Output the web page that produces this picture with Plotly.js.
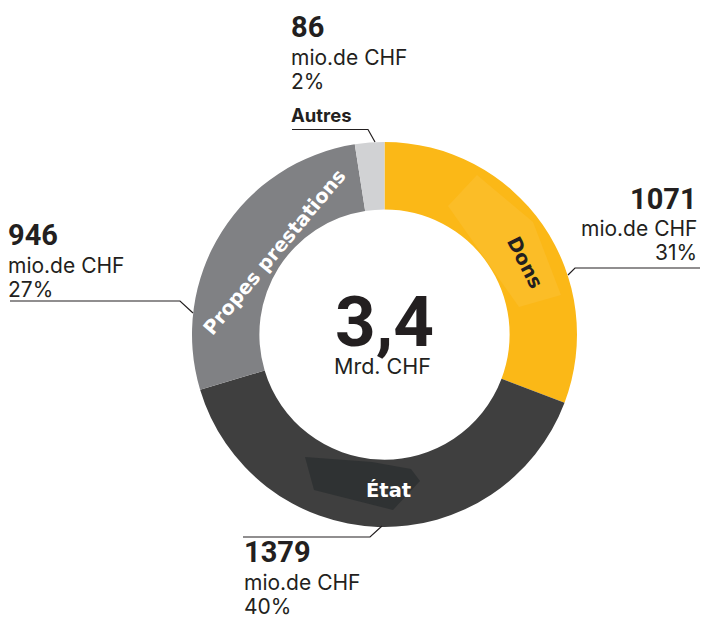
<!DOCTYPE html>
<html>
<head>
<meta charset="utf-8">
<script src="https://cdn.plot.ly/plotly-3.0.1.min.js"></script>
<style>
html,body{margin:0;padding:0;background:#fff;}
#chart{width:705px;height:619px;}
</style>
</head>
<body>
<div id="chart"></div>
<script>
// ---- data ----
const labels = ['Dons', 'État', 'Propes prestations', 'Autres'];
const values = [1071, 1379, 946, 86];
const percents = ['31%', '40%', '27%', '2%'];
const sliceText = ['Dons', 'État', 'Propes prestations', ''];
const unitText = 'mio.de CHF';
const totalText = '3,4';
const totalUnit = 'Mrd. CHF';
const outsideName = ['', '', '', 'Autres'];

// ---- styling ----
const colors = ['#FBB817', '#3F3F3F', '#808184', '#D1D2D4'];
const sliceTextColors = ['#231F20', '#FFFFFF', '#FFFFFF', '#FFFFFF'];
const ink = '#231F20';
const W = 705, H = 619;
const fx = x => x / W;
const fy = y => 1 - y / H;

// label blocks (pixel positions of caps-centres)
const blocks = [
  {x: 698, anchor: 'right', y: 198.5},
  {x: 243, anchor: 'left', y: 552},
  {x: 7, anchor: 'left', y: 235},
  {x: 290, anchor: 'left', y: 27.5}
];
const lineGaps = [0, 30, 54];
const leaders = [
  [[568, 275], [575, 268], [700, 268]],
  [[382, 526], [370, 537], [243, 537]],
  [[193, 313], [180, 301], [10, 301]],
  [[375, 142], [368, 129.5], [292, 129.5]]
];
// in-ring label placement (pixels, rotation)
const inLabelPos = [
  {x: 525, y: 262, angle: 63},
  {x: 388, y: 490, angle: 0},
  {x: 274, y: 252, angle: -50},
  null
];
// subtle tinted panels behind the in-ring labels
const panels = [
  {pts: [[477, 175], [448, 206], [519, 307], [561, 295], [533, 222]], fill: 'rgba(255,255,255,0.07)'},
  {pts: [[305, 457], [372, 462], [411, 469], [420, 481], [393, 510], [314, 490]], fill: 'rgba(20,28,30,0.36)'}
];

const annotations = [];
const shapes = [];

panels.forEach(p => {
  shapes.push({type: 'path', xref: 'paper', yref: 'paper', layer: 'above',
    path: p.pts.map((q, k) => (k ? 'L' : 'M') + fx(q[0]) + ',' + fy(q[1])).join(' ') + ' Z',
    fillcolor: p.fill, line: {width: 0}});
});

labels.forEach((lab, i) => {
  const b = blocks[i];
  const common = {xref: 'paper', yref: 'paper', x: fx(b.x), xanchor: b.anchor,
    yanchor: 'middle', showarrow: false, align: b.anchor, borderpad: 0};
  annotations.push(Object.assign({}, common, {y: fy(b.y + lineGaps[0]), text: '<b>' + values[i] + '</b>',
    font: {family: 'Roboto', size: 29, color: ink}}));
  annotations.push(Object.assign({}, common, {y: fy(b.y + lineGaps[1]), text: unitText,
    font: {family: 'Inter', size: 21, color: ink}}));
  annotations.push(Object.assign({}, common, {y: fy(b.y + lineGaps[2]), text: percents[i],
    font: {family: 'Inter', size: 21, color: ink}}));
  if (outsideName[i]) {
    annotations.push(Object.assign({}, common, {y: fy(b.y + 87.5), text: '<b>' + outsideName[i] + '</b>',
      font: {family: 'Inter', size: 18.5, color: ink}}));
  }
  const pts = leaders[i];
  shapes.push({type: 'path', xref: 'paper', yref: 'paper',
    path: pts.map((p, k) => (k ? 'L' : 'M') + fx(p[0]) + ',' + fy(p[1])).join(' '),
    line: {color: ink, width: 1.2}});
  const lp = inLabelPos[i];
  if (lp && sliceText[i]) {
    annotations.push({xref: 'paper', yref: 'paper', x: fx(lp.x), y: fy(lp.y), xanchor: 'center',
      yanchor: 'middle', showarrow: false, textangle: lp.angle, text: '<b>' + sliceText[i] + '</b>',
      font: {family: 'DejaVu Sans', size: 19.5, color: sliceTextColors[i]}});
  }
});

annotations.push({xref: 'paper', yref: 'paper', x: fx(384), y: fy(321.5), xanchor: 'center', yanchor: 'middle',
  showarrow: false, text: '<b>' + totalText + '</b>', font: {family: 'Roboto', size: 71, color: ink}});
annotations.push({xref: 'paper', yref: 'paper', x: fx(382.5), y: fy(365.5), xanchor: 'center', yanchor: 'middle',
  showarrow: false, text: totalUnit, font: {family: 'Inter', size: 21.5, color: ink}});

const trace = {
  type: 'pie',
  labels: labels,
  values: values,
  textinfo: 'none',
  hole: 0.65,
  sort: false,
  direction: 'clockwise',
  rotation: 0,
  marker: {colors: colors, line: {width: 0}},
  domain: {x: [fx(192), fx(577)], y: [fy(527), fy(142)]},
  hoverinfo: 'none',
  showlegend: false
};

const layout = {
  width: W, height: H,
  margin: {l: 0, r: 0, t: 0, b: 0},
  paper_bgcolor: '#FFFFFF',
  plot_bgcolor: '#FFFFFF',
  showlegend: false,
  annotations: annotations,
  shapes: shapes
};

Plotly.newPlot('chart', [trace], layout, {displayModeBar: false, staticPlot: true});
</script>
</body>
</html>
